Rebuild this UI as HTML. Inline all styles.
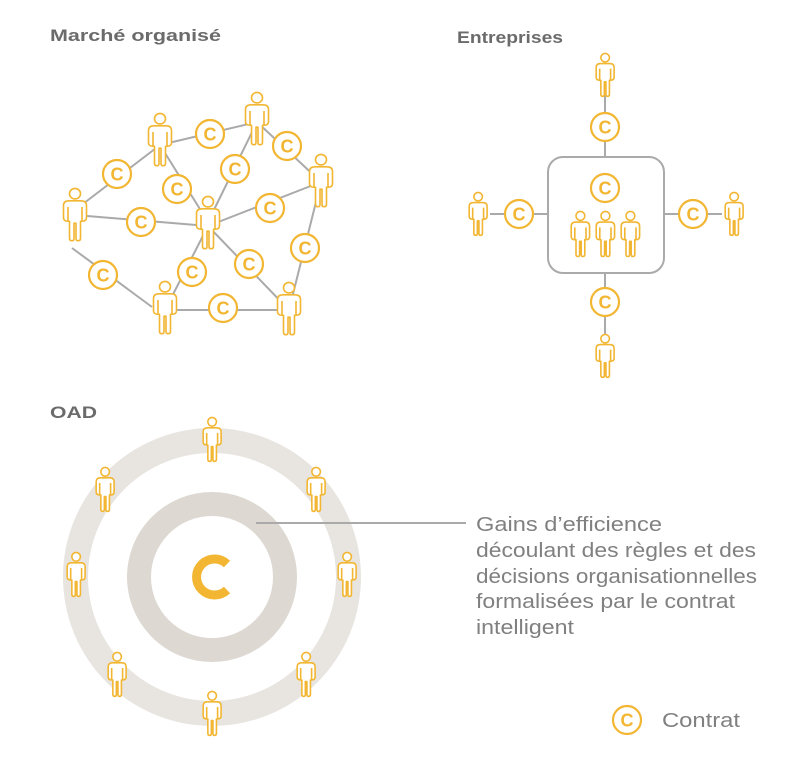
<!DOCTYPE html>
<html><head><meta charset="utf-8"><style>html,body{margin:0;padding:0;background:#fff}svg{display:block}</style></head>
<body>
<svg width="799" height="763" viewBox="0 0 799 763" xmlns="http://www.w3.org/2000/svg" font-family="Liberation Sans, sans-serif">
<defs>
<g id="p">
<circle cx="13" cy="6" r="5.5" fill="#fff" stroke="#f2b632" stroke-width="1.6" vector-effect="non-scaling-stroke"/>
<path d="M7.5,53 V35 H6 Q1.5,35 1.5,31 V18.5 Q1.5,13.5 7,13.5 H19 Q24.5,13.5 24.5,18.5 V31 Q24.5,35 20,35 H18.5 V53 Q18.5,55.5 16,55.5 Q14,55.5 14,53 V37 H12 V53 Q12,55.5 10,55.5 Q7.5,55.5 7.5,53 Z M6,20 V35 M20,20 V35" fill="#fff" stroke="#f2b632" stroke-width="1.6" stroke-linejoin="round" vector-effect="non-scaling-stroke"/>
</g>
<g id="c"><circle r="14" fill="#fff" stroke="#f2b632" stroke-width="2.2"/><text y="6.5" text-anchor="middle" font-size="18" font-weight="bold" fill="#f2b632">C</text></g>
</defs>

<g font-weight="bold" font-size="17" fill="#6b6b6b">
<text x="50" y="41" textLength="171" lengthAdjust="spacingAndGlyphs">Marché organisé</text>
<text x="457" y="43" textLength="106" lengthAdjust="spacingAndGlyphs">Entreprises</text>
<text x="50" y="418" textLength="47" lengthAdjust="spacingAndGlyphs">OAD</text>
</g>

<g stroke="#aaa" stroke-width="2">
<line x1="75" y1="210" x2="160" y2="145"/>
<line x1="160" y1="145" x2="257" y2="122"/>
<line x1="257" y1="122" x2="321" y2="182"/>
<line x1="257" y1="122" x2="208" y2="222"/>
<line x1="160" y1="145" x2="208" y2="222"/>
<line x1="75" y1="215" x2="208" y2="226"/>
<line x1="208" y1="226" x2="321" y2="182"/>
<line x1="321" y1="182" x2="289" y2="310"/>
<line x1="208" y1="226" x2="289" y2="310"/>
<line x1="208" y1="226" x2="165" y2="310"/>
<line x1="72" y1="248" x2="152" y2="307"/>
<line x1="165" y1="310" x2="289" y2="310"/>
</g>
<g transform="translate(62,188) scale(1,0.95)"><use href="#p"/></g>
<g transform="translate(147,113) scale(1,0.95)"><use href="#p"/></g>
<g transform="translate(244,92) scale(1,0.95)"><use href="#p"/></g>
<g transform="translate(308,154) scale(1,0.95)"><use href="#p"/></g>
<g transform="translate(195,196) scale(1,0.95)"><use href="#p"/></g>
<g transform="translate(152,281) scale(1,0.95)"><use href="#p"/></g>
<g transform="translate(276,282) scale(1,0.95)"><use href="#p"/></g>
<use href="#c" x="117" y="174"/><use href="#c" x="210" y="134"/><use href="#c" x="287" y="146"/>
<use href="#c" x="235" y="169"/><use href="#c" x="177" y="189"/><use href="#c" x="141" y="222"/>
<use href="#c" x="270" y="208"/><use href="#c" x="305" y="248"/><use href="#c" x="249" y="264"/>
<use href="#c" x="192" y="272"/><use href="#c" x="103" y="275"/><use href="#c" x="223" y="308"/>

<g stroke="#aaa" stroke-width="2">
<line x1="605" y1="95" x2="605" y2="157"/>
<line x1="605" y1="272" x2="605" y2="335"/>
<line x1="490" y1="214" x2="548" y2="214"/>
<line x1="664" y1="214" x2="722" y2="214"/>
</g>
<rect x="548" y="157" width="116" height="116" rx="15" fill="#fff" stroke="#aaa" stroke-width="2"/>
<use href="#c" x="605" y="127"/><use href="#c" x="605" y="188"/>
<use href="#c" x="519" y="214"/><use href="#c" x="693" y="214"/><use href="#c" x="605" y="302"/>
<g transform="translate(595,53) scale(0.78)"><use href="#p"/></g>
<g transform="translate(468,192) scale(0.78)"><use href="#p"/></g>
<g transform="translate(724,192) scale(0.78)"><use href="#p"/></g>
<g transform="translate(595,334) scale(0.78)"><use href="#p"/></g>
<g transform="translate(570,211) scale(0.8,0.82)"><use href="#p"/></g>
<g transform="translate(595,211) scale(0.8,0.82)"><use href="#p"/></g>
<g transform="translate(620,211) scale(0.8,0.82)"><use href="#p"/></g>

<circle cx="212" cy="577" r="136.5" fill="none" stroke="#e8e5e0" stroke-width="25"/>
<circle cx="212" cy="577" r="73" fill="none" stroke="#ddd8d1" stroke-width="24"/>
<line x1="256" y1="523" x2="466" y2="523" stroke="#aaa" stroke-width="2"/>
<path d="M227,564 A18,18 0 1 0 227,590" fill="none" stroke="#f2b632" stroke-width="9"/>
<g transform="translate(202,417) scale(0.78,0.8)"><use href="#p"/></g>
<g transform="translate(95,467) scale(0.78,0.8)"><use href="#p"/></g>
<g transform="translate(306,467) scale(0.78,0.8)"><use href="#p"/></g>
<g transform="translate(66,552) scale(0.78,0.8)"><use href="#p"/></g>
<g transform="translate(337,552) scale(0.78,0.8)"><use href="#p"/></g>
<g transform="translate(107,652) scale(0.78,0.8)"><use href="#p"/></g>
<g transform="translate(296,652) scale(0.78,0.8)"><use href="#p"/></g>
<g transform="translate(202,691) scale(0.78,0.8)"><use href="#p"/></g>

<g font-size="20" fill="#808080">
<text x="476" y="531" textLength="186" lengthAdjust="spacingAndGlyphs">Gains d’efficience</text>
<text x="476" y="557" textLength="280" lengthAdjust="spacingAndGlyphs">découlant des règles et des</text>
<text x="476" y="583" textLength="281" lengthAdjust="spacingAndGlyphs">décisions organisationnelles</text>
<text x="476" y="608" textLength="259" lengthAdjust="spacingAndGlyphs">formalisées par le contrat</text>
<text x="476" y="634" textLength="98" lengthAdjust="spacingAndGlyphs">intelligent</text>
<text x="662" y="727" textLength="78" lengthAdjust="spacingAndGlyphs">Contrat</text>
</g>
<use href="#c" x="627" y="720"/>
</svg>
</body></html>
